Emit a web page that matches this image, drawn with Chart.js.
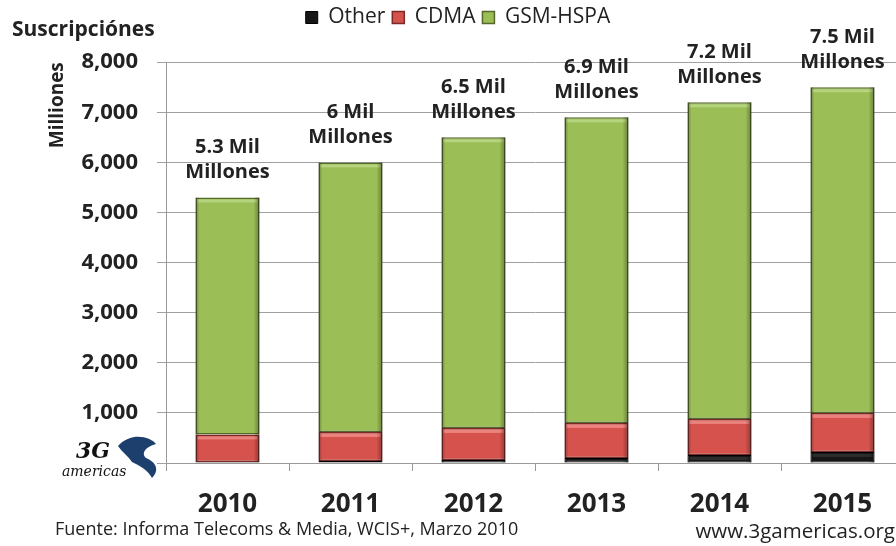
<!DOCTYPE html>
<html>
<head>
<meta charset="utf-8">
<script src="https://cdn.jsdelivr.net/npm/chart.js@4/dist/chart.umd.min.js"></script>
<style>
  html, body { margin: 0; padding: 0; background: #fff; overflow: hidden; }
  #wrap { position: relative; width: 904px; height: 546px; }
</style>
</head>
<body>
<div id="wrap"><canvas id="chart" width="904" height="546"></canvas></div>
<script>
// Mobile subscriptions by technology, millions
const years = ['2010', '2011', '2012', '2013', '2014', '2015'];
const otherSubs = [20, 40, 60, 100, 160, 220];
const cdmaSubs = [550, 580, 640, 700, 720, 780];
const gsmSubs = [4730, 5380, 5800, 6100, 6320, 6500];
const totalLabels = ['5.3 Mil', '6 Mil', '6.5 Mil', '6.9 Mil', '7.2 Mil', '7.5 Mil'];
const yTicks = [0, 1000, 2000, 3000, 4000, 5000, 6000, 7000, 8000];

const FONT = '"Open Sans", "DejaVu Sans", sans-serif';
const TEXT = '#222';

// Bevel look for each bar segment: light top strip, dark side edges
const bevelPlugin = {
  id: 'bevel',
  afterDatasetsDraw(chart) {
    const ctx = chart.ctx;
    const highlights = ['rgba(255,255,255,0.1)', 'rgba(255,170,165,0.55)', 'rgba(200,225,150,0.6)'];
    chart.data.datasets.forEach((ds, di) => {
      const meta = chart.getDatasetMeta(di);
      meta.data.forEach(bar => {
        const left = bar.x - bar.width / 2;
        const right = bar.x + bar.width / 2;
        const top = Math.min(bar.y, bar.base);
        const h = Math.abs(bar.base - bar.y);
        if (h < 2) return;
        ctx.save();
        // top highlight
        ctx.fillStyle = highlights[di];
        ctx.fillRect(left + 2, top + 2, bar.width - 4, Math.min(3, h - 3));
        // right shadow
        const g = ctx.createLinearGradient(right - 6, 0, right, 0);
        g.addColorStop(0, 'rgba(0,0,0,0)');
        g.addColorStop(1, 'rgba(0,0,0,0.35)');
        ctx.fillStyle = g;
        ctx.fillRect(right - 6, top, 6, h);
        // left shadow
        const g2 = ctx.createLinearGradient(left, 0, left + 4, 0);
        g2.addColorStop(0, 'rgba(0,0,0,0.3)');
        g2.addColorStop(1, 'rgba(0,0,0,0)');
        ctx.fillStyle = g2;
        ctx.fillRect(left, top, 4, h);
        ctx.restore();
      });
    });
  }
};

// Two-line total labels above every stack
const totalsPlugin = {
  id: 'totals',
  afterDatasetsDraw(chart) {
    const ctx = chart.ctx;
    const y = chart.scales.y;
    const x = chart.scales.x;
    ctx.save();
    ctx.fillStyle = TEXT;
    ctx.font = 'bold 20px ' + FONT;
    ctx.textAlign = 'center';
    ctx.textBaseline = 'middle';
    years.forEach((yr, i) => {
      const total = otherSubs[i] + cdmaSubs[i] + gsmSubs[i];
      const px = x.getPixelForValue(i);
      const py = y.getPixelForValue(total);
      ctx.fillText(totalLabels[i], px, py - 50);
      ctx.fillText('Millones', px, py - 25);
    });
    ctx.restore();
  }
};

// Source line, web address and logo
const footerPlugin = {
  id: 'footer',
  afterDraw(chart) {
    const ctx = chart.ctx;
    ctx.save();
    ctx.fillStyle = TEXT;
    ctx.textBaseline = 'middle';
    ctx.textAlign = 'left';
    ctx.font = '18px ' + FONT;
    ctx.fillText('Fuente: Informa Telecoms & Media, WCIS+, Marzo 2010', 55, 530);
    ctx.font = '20.5px ' + FONT;
    ctx.textAlign = 'right';
    ctx.fillText('www.3gamericas.org', 895, 532);

    // logo
    ctx.textAlign = 'left';
    ctx.fillStyle = '#1d3f6e';
    ctx.beginPath();
    ctx.moveTo(118, 446);
    ctx.bezierCurveTo(130, 432, 150, 436, 156, 444);
    ctx.bezierCurveTo(148, 446, 140, 452, 146, 458);
    ctx.bezierCurveTo(156, 462, 160, 470, 152, 478);
    ctx.bezierCurveTo(148, 470, 140, 466, 132, 462);
    ctx.bezierCurveTo(128, 456, 122, 452, 118, 446);
    ctx.fill();
    ctx.fillStyle = '#111';
    ctx.font = 'italic bold 22px "DejaVu Serif", serif';
    ctx.fillText('3G', 76, 452);
    ctx.font = 'italic 14px "DejaVu Serif", serif';
    ctx.fillText('americas', 62, 472);
    ctx.restore();
  }
};

new Chart(document.getElementById('chart'), {
  type: 'bar',
  data: {
    labels: years,
    datasets: [
      { label: 'Other', data: otherSubs, backgroundColor: '#161616', borderColor: '#000', borderWidth: 1 },
      { label: 'CDMA', data: cdmaSubs, backgroundColor: '#D5524D', borderColor: '#7a2a27', borderWidth: 1.5 },
      { label: 'GSM-HSPA', data: gsmSubs, backgroundColor: '#9BBE57', borderColor: '#55692c', borderWidth: 1.5 }
    ]
  },
  options: {
    responsive: false,
    animation: false,
    layout: { padding: { left: 12, right: 0, top: 0, bottom: 0 } },
    datasets: { bar: { barPercentage: 0.52, categoryPercentage: 1, borderSkipped: false } },
    plugins: {
      legend: {
        position: 'top',
        labels: {
          color: TEXT,
          font: { family: FONT, size: 21 },
          boxWidth: 12,
          boxHeight: 12,
          padding: 7
        }
      },
      title: {
        display: true,
        text: 'Suscripciónes',
        position: 'top',
        align: 'start',
        weight: 500,
        color: TEXT,
        font: { family: FONT, size: 21, weight: 'bold' },
        padding: { top: -21, bottom: 20 }
      },
      tooltip: { enabled: false }
    },
    scales: {
      x: {
        stacked: true,
        grid: { display: true, drawOnChartArea: false, tickLength: 8, color: '#999', offset: true },
        border: { color: '#999' },
        ticks: { color: TEXT, font: { family: FONT, size: 26, weight: 'bold' }, padding: 18 },
        afterFit(scale) { scale.height = 83; }
      },
      y: {
        stacked: true,
        min: 0,
        max: 8000,
        afterBuildTicks(scale) { scale.ticks = yTicks.map(v => ({ value: v })); },
        grid: { color: '#a0a0a0', tickLength: 9 },
        border: { color: '#999' },
        ticks: {
          color: TEXT,
          font: { family: FONT, size: 22, weight: 'bold' },
          padding: 19,
          // the logo sits where the zero label would be
          callback: v => (v === 0 ? '' : v.toLocaleString('en-US'))
        },
        title: {
          display: true,
          text: 'Milliones',
          align: 'end',
          color: TEXT,
          font: { family: FONT, size: 19, weight: 'bold' },
          padding: { top: 34, bottom: 0 }
        },
        afterFit(scale) { scale.width = 154; }
      }
    }
  },
  plugins: [bevelPlugin, totalsPlugin, footerPlugin]
});
</script>
</body>
</html>
